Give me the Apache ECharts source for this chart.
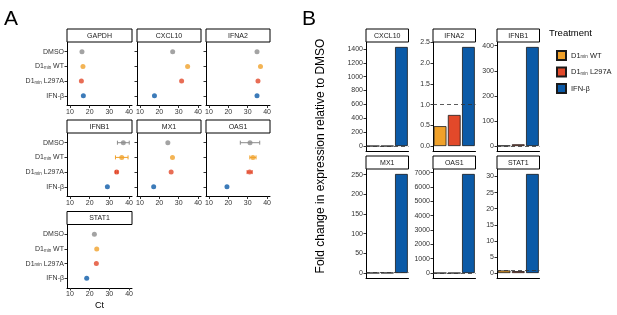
<!DOCTYPE html>
<html>
<head>
<meta charset="utf-8">
<script src="https://cdn.jsdelivr.net/npm/echarts@6/dist/echarts.min.js"></script>
<style>
  html, body { margin: 0; padding: 0; background: #fff; }
  #chart { width: 617px; height: 315px; }
</style>
</head>
<body>
<div id="chart"></div>
<script>
; (function () {

    /* ---------- data: panel A (Ct values) ---------- */
    var treatments = ['DMSO', 'D1min WT', 'D1min L297A', 'IFN-β'];
    var ctGenes = ['GAPDH', 'CXCL10', 'IFNA2', 'IFNB1', 'MX1', 'OAS1', 'STAT1'];
    var ctGAPDH = [16.1, 16.6, 15.8, 16.8];
    var ctCXCL10 = [26.9, 34.6, 31.5, 17.5];
    var ctIFNA2 = [34.8, 36.6, 35.3, 34.8];
    var ctIFNB1 = [37.1, 36.3, 33.7, 29.0];
    var ctMX1 = [24.4, 26.8, 26.1, 17.1];
    var ctOAS1 = [31.2, 32.7, 31.0, 19.3];
    var ctSTAT1 = [22.4, 23.6, 23.4, 18.5];
    var sdIFNB1 = [3.0, 3.2, 0.6, 0];
    var sdOAS1 = [5.0, 1.6, 1.3, 0];
    var ctTicks = [10, 20, 30, 40];

    /* ---------- data: panel B (fold change vs DMSO) ---------- */
    var fcTreatments = ['D1min WT', 'D1min L297A', 'IFN-β'];
    var fcGenes = ['CXCL10', 'IFNA2', 'IFNB1', 'MX1', 'OAS1', 'STAT1'];
    var fcCXCL10 = [0.02, 0.05, 1428];
    var fcIFNA2 = [0.48, 0.75, 2.39];
    var fcIFNB1 = [1.5, 7, 395];
    var fcMX1 = [0.3, 0.4, 252];
    var fcOAS1 = [0.5, 1.0, 6910];
    var fcSTAT1 = [0.8, 0.6, 30.8];
    var ticksCXCL10 = [0, 200, 400, 600, 800, 1000, 1200, 1400];
    var ticksIFNA2 = [0, 0.5, 1.0, 1.5, 2.0, 2.5];
    var ticksIFNB1 = [0, 100, 200, 300, 400];
    var ticksMX1 = [0, 50, 100, 150, 200, 250];
    var ticksOAS1 = [0, 1000, 2000, 3000, 4000, 5000, 6000, 7000];
    var ticksSTAT1 = [0, 5, 10, 15, 20, 25, 30];

    var ctData = { GAPDH: ctGAPDH, CXCL10: ctCXCL10, IFNA2: ctIFNA2, IFNB1: ctIFNB1, MX1: ctMX1, OAS1: ctOAS1, STAT1: ctSTAT1 };
    var sdData = { IFNB1: sdIFNB1, OAS1: sdOAS1 };
    var fcData = { CXCL10: fcCXCL10, IFNA2: fcIFNA2, IFNB1: fcIFNB1, MX1: fcMX1, OAS1: fcOAS1, STAT1: fcSTAT1 };
    var fcTicks = { CXCL10: ticksCXCL10, IFNA2: ticksIFNA2, IFNB1: ticksIFNB1, MX1: ticksMX1, OAS1: ticksOAS1, STAT1: ticksSTAT1 };

    var COLORS = { 'DMSO': '#8c8c8c', 'D1min WT': '#f0a12a', 'D1min L297A': '#e2492a', 'IFN-β': '#0b5aa7' };
    var FONT = 'Liberation Sans, Arial, sans-serif';
    var richSub = {
        s: { fontSize: 4.5, fontFamily: FONT, color: '#333', verticalAlign: 'bottom', padding: [3, 0, 0, 0] }
    };
    function richName(n) { return n.replace('D1min', 'D1{s|min}'); }

    var myChart = echarts.init(document.getElementById('chart'));
    var grids = [], xAxes = [], yAxes = [], series = [], graphics = [];

    function strip(x, y, w, text) {
        graphics.push({
            type: 'rect', shape: { x: x, y: y, width: w, height: 13 },
            style: { fill: '#fff', stroke: '#000', lineWidth: 1 }, z: 10
        });
        graphics.push({
            type: 'text', x: x + w / 2, y: y + 7, z: 11,
            style: {
                text: text, fontSize: 7, fontFamily: FONT, fill: '#1a1a1a',
                align: 'center', verticalAlign: 'middle', textAlign: 'center', textVerticalAlign: 'middle'
            }
        });
    }

    var axisLine = { show: true, onZero: false, lineStyle: { color: '#000', width: 1 } };
    var axisTick = { show: true, length: 2.5, lineStyle: { color: '#333', width: 1 } };

    /* ---------- panel A: dot plots ---------- */
    var colsA = [67, 137, 206], topsA = [42, 133, 224.5];
    ctGenes.forEach(function (g, i) {
        var row = Math.floor(i / 3), col = i % 3;
        var gi = grids.length;
        var w = col === 0 ? 65 : 64;
        grids.push({ left: colsA[col], top: topsA[row], width: w, height: 63.5 });
        strip(colsA[col], topsA[row] - 13, w, g);
        xAxes.push({
            type: 'value', gridIndex: gi, min: 8.5, max: 41.5,
            axisLine: axisLine, axisTick: Object.assign({ customValues: ctTicks }, axisTick),
            axisLabel: { customValues: ctTicks, fontSize: 7, fontFamily: FONT, color: '#333', margin: 3 },
            splitLine: { show: false },
            name: i === 6 ? 'Ct' : '', nameLocation: 'middle', nameGap: 13,
            nameTextStyle: { fontSize: 9, fontFamily: FONT, color: '#000' }
        });
        yAxes.push({
            type: 'value', gridIndex: gi, min: -0.66, max: 3.66, inverse: true,
            axisLine: axisLine,
            axisTick: Object.assign({ customValues: [0, 1, 2, 3] }, axisTick),
            axisLabel: {
                show: col === 0, customValues: [0, 1, 2, 3], fontSize: 7, fontFamily: FONT, color: '#333', margin: 3,
                formatter: function (v) { return richName(treatments[Math.round(v)] || ''); },
                rich: richSub
            },
            splitLine: { show: false }
        });
        var sd = sdData[g];
        if (sd) {
            series.push({
                type: 'custom', xAxisIndex: gi, yAxisIndex: gi, silent: true, z: 2,
                data: ctData[g].map(function (v, k) { return [v, k, sd[k]]; }),
                renderItem: function (params, api) {
                    var v = api.value(0), y = api.value(1), s = api.value(2);
                    if (!s) return null;
                    var a = api.coord([v - s, y]), b = api.coord([v + s, y]);
                    var c = COLORS[treatments[y]];
                    var st = { stroke: c, lineWidth: 1 };
                    return {
                        type: 'group', children: [
                            { type: 'line', shape: { x1: a[0], y1: a[1], x2: b[0], y2: b[1] }, style: st },
                            { type: 'line', shape: { x1: a[0], y1: a[1] - 2, x2: a[0], y2: a[1] + 2 }, style: st },
                            { type: 'line', shape: { x1: b[0], y1: b[1] - 2, x2: b[0], y2: b[1] + 2 }, style: st }
                        ]
                    };
                }
            });
        }
        series.push({
            type: 'scatter', xAxisIndex: gi, yAxisIndex: gi, symbolSize: 5, z: 3,
            data: ctData[g].map(function (v, k) {
                return { value: [v, k], itemStyle: { color: COLORS[treatments[k]] } };
            })
        });
    });

    /* ---------- panel B: bar plots ---------- */
    var colsB = [366, 433, 497], topsB = [42, 169];
    fcGenes.forEach(function (g, i) {
        var row = Math.floor(i / 3), col = i % 3;
        var gi = grids.length;
        var vals = fcData[g];
        var m = Math.max.apply(null, vals);
        grids.push({ left: colsB[col], top: topsB[row], width: 42.5, height: 109 });
        strip(colsB[col], topsB[row] - 13, 42.5, g);
        xAxes.push({
            type: 'category', gridIndex: gi, data: fcTreatments,
            axisLine: axisLine, axisTick: { show: false }, axisLabel: { show: false }
        });
        var t = fcTicks[g];
        yAxes.push({
            type: 'value', gridIndex: gi, min: -0.05 * m, max: 1.05 * m,
            axisLine: axisLine,
            axisTick: Object.assign({ customValues: t }, axisTick),
            axisLabel: {
                customValues: t, fontSize: 7, fontFamily: FONT, color: '#333', margin: 3,
                formatter: function (v) { return g === 'IFNA2' ? v.toFixed(1) : String(v); }
            },
            splitLine: { show: false }
        });
        fcTreatments.forEach(function (tr, k) {
            var s = {
                type: 'bar', name: tr, xAxisIndex: gi, yAxisIndex: gi,
                barWidth: '90%', barGap: '-100%',
                itemStyle: { color: COLORS[tr], borderColor: '#1a1a1a', borderWidth: 0.8 },
                data: fcTreatments.map(function (x, j) { return j === k ? vals[k] : '-'; })
            };
            if (k === 2) {
                s.markLine = {
                    silent: true, symbol: 'none', label: { show: false },
                    lineStyle: { type: [4, 3], color: '#333', width: 1, opacity: 0.8 },
                    data: [{ yAxis: 1 }]
                };
            }
            series.push(s);
        });
    });

    /* ---------- labels ---------- */
    graphics.push({ type: 'text', x: 4, y: 9, style: { text: 'A', fontSize: 21, fontFamily: FONT, fill: '#000' } });
    graphics.push({ type: 'text', x: 302, y: 9, style: { text: 'B', fontSize: 21, fontFamily: FONT, fill: '#000' } });
    graphics.push({
        type: 'text', x: 321, y: 156, rotation: Math.PI / 2,
        style: {
            text: 'Fold change in expression relative to DMSO', fontSize: 12, fontFamily: FONT, fill: '#000',
            align: 'center', verticalAlign: 'middle', textAlign: 'center', textVerticalAlign: 'middle'
        }
    });
    graphics.push({ type: 'text', x: 549, y: 28, style: { text: 'Treatment', fontSize: 9.5, fontFamily: FONT, fill: '#000' } });

    var option = {
        backgroundColor: '#fff',
        animation: false,
        textStyle: { fontFamily: FONT },
        grid: grids,
        xAxis: xAxes,
        yAxis: yAxes,
        legend: {
            data: fcTreatments, orient: 'vertical', left: 551, top: 45,
            itemWidth: 9, itemHeight: 9, itemGap: 5.5, icon: 'rect',
            formatter: richName,
            textStyle: { fontSize: 7.5, fontFamily: FONT, color: '#1a1a1a', rich: richSub }
        },
        graphic: graphics,
        series: series
    };

    myChart.setOption(option);
}());
</script>
</body>
</html>
